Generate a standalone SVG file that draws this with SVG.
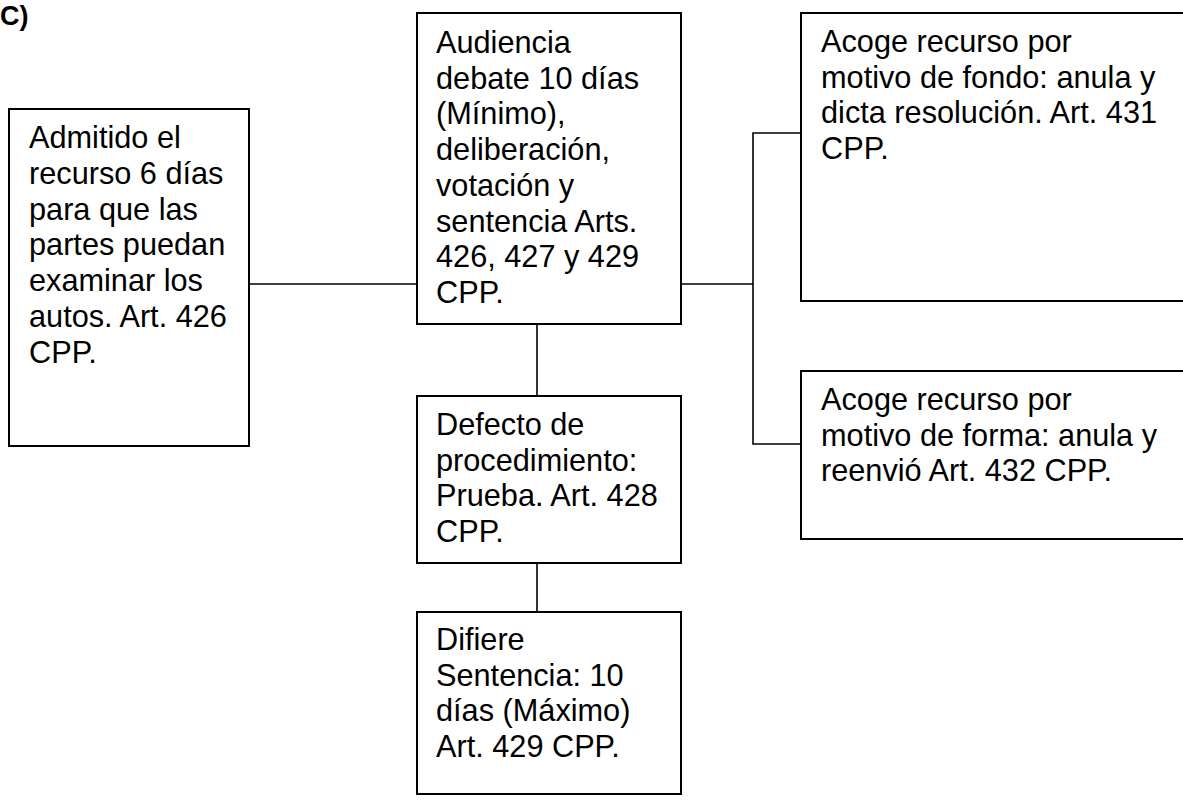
<svg xmlns="http://www.w3.org/2000/svg" width="1183" height="804" viewBox="0 0 1183 804">
  <style>
    .box { fill: #ffffff; stroke: #000000; stroke-width: 2; }
    .lbl { font-family: "Liberation Sans", Arial, sans-serif; font-size: 30.7px; fill: #000000; }
    .conn { fill: none; stroke: #000000; stroke-width: 1.6; }
    .title { font-family: "Liberation Sans", Arial, sans-serif; font-size: 27px; font-weight: bold; fill: #000000; }
  </style>
  <rect width="1183" height="804" fill="#ffffff"/>

  <text class="title" x="0" y="25">C)</text>

  <!-- connectors -->
  <g id="connectors">
    <line class="conn" x1="249" y1="284" x2="417" y2="284"/>
    <line class="conn" x1="681" y1="284" x2="753" y2="284"/>
    <polyline class="conn" points="801,133 753,133 753,444 801,444"/>
    <line class="conn" x1="537" y1="323" x2="537" y2="396"/>
    <line class="conn" x1="537" y1="563" x2="537" y2="612"/>
  </g>

  <g id="admitido">
    <rect class="box" x="9" y="109" width="240" height="337"/>
    <text class="lbl">
      <tspan x="29" y="148">Admitido el</tspan>
      <tspan x="29" y="183.8">recurso 6 días</tspan>
      <tspan x="29" y="219.6">para que las</tspan>
      <tspan x="29" y="255.4">partes puedan</tspan>
      <tspan x="29" y="291.2">examinar los</tspan>
      <tspan x="29" y="327">autos. Art. 426</tspan>
      <tspan x="29" y="362.8">CPP.</tspan>
    </text>
  </g>

  <g id="audiencia">
    <rect class="box" x="417" y="13" width="264" height="311"/>
    <text class="lbl">
      <tspan x="436" y="53">Audiencia</tspan>
      <tspan x="436" y="88.7">debate 10 días</tspan>
      <tspan x="436" y="124.4">(Mínimo),</tspan>
      <tspan x="436" y="160.1">deliberación,</tspan>
      <tspan x="436" y="195.8">votación y</tspan>
      <tspan x="436" y="231.5">sentencia Arts.</tspan>
      <tspan x="436" y="267.2">426, 427 y 429</tspan>
      <tspan x="436" y="302.9">CPP.</tspan>
    </text>
  </g>

  <g id="fondo">
    <rect class="box" x="801" y="13" width="400" height="288"/>
    <text class="lbl">
      <tspan x="821" y="52">Acoge recurso por</tspan>
      <tspan x="821" y="87.5">motivo de fondo: anula y</tspan>
      <tspan x="821" y="123">dicta resolución. Art. 431</tspan>
      <tspan x="821" y="158.5">CPP.</tspan>
    </text>
  </g>

  <g id="forma">
    <rect class="box" x="801" y="371" width="400" height="168"/>
    <text class="lbl">
      <tspan x="821" y="410">Acoge recurso por</tspan>
      <tspan x="821" y="445.5">motivo de forma: anula y</tspan>
      <tspan x="821" y="481">reenvió Art. 432 CPP.</tspan>
    </text>
  </g>

  <g id="defecto">
    <rect class="box" x="417" y="396" width="264" height="167"/>
    <text class="lbl">
      <tspan x="436" y="435">Defecto de</tspan>
      <tspan x="436" y="470.7">procedimiento:</tspan>
      <tspan x="436" y="506.4">Prueba. Art. 428</tspan>
      <tspan x="436" y="542.1">CPP.</tspan>
    </text>
  </g>

  <g id="difiere">
    <rect class="box" x="417" y="612" width="264" height="182"/>
    <text class="lbl">
      <tspan x="436" y="650">Difiere</tspan>
      <tspan x="436" y="685.7">Sentencia: 10</tspan>
      <tspan x="436" y="721.4">días (Máximo)</tspan>
      <tspan x="436" y="757.1">Art. 429 CPP.</tspan>
    </text>
  </g>
</svg>
